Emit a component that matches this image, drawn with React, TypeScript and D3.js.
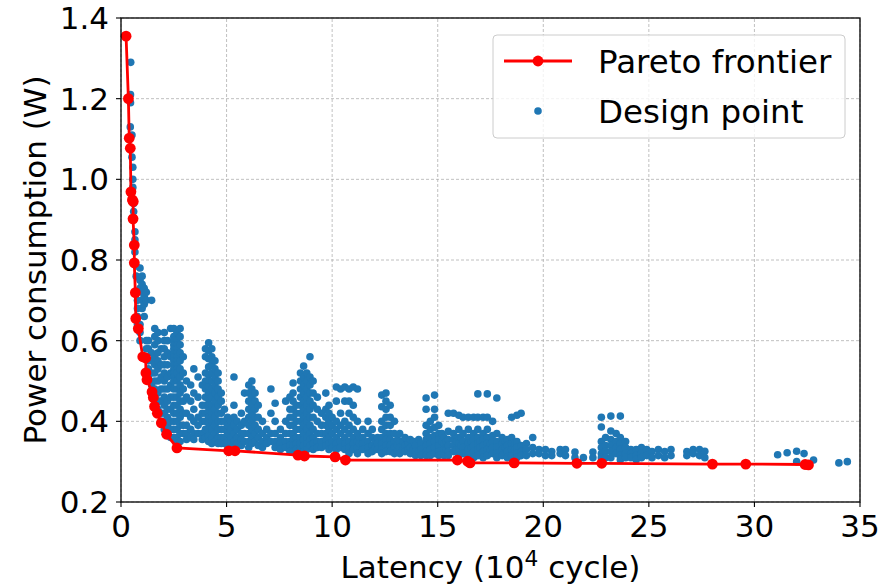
import React from 'react'
import * as d3 from 'd3'

// tick values
const xTicks = [0, 5, 10, 15, 20, 25, 30, 35]
const yTicks = [0.2, 0.4, 0.6, 0.8, 1.0, 1.2, 1.4]

// pareto frontier (latency in 10^4 cycles, power in W)
const paretoLatency = [
  0.24, 0.35, 0.39, 0.44, 0.47, 0.54, 0.58, 0.57, 0.63, 0.63, 0.68, 0.7, 0.82, 1.03, 1.17, 1.18, 1.23, 1.47,
  1.53, 1.59, 1.72, 1.91, 2.16, 2.65, 5.1, 5.4, 8.38, 8.69, 10.14, 10.63, 15.93, 16.41, 16.53, 18.62, 21.59,
  22.77, 28.01, 29.59, 32.4, 32.56,
]
const paretoPower = [
  1.355, 1.2, 1.102, 1.077, 0.969, 0.949, 0.945, 0.902, 0.837, 0.793, 0.719, 0.655, 0.63, 0.56, 0.557, 0.52,
  0.503, 0.473, 0.459, 0.437, 0.42, 0.396, 0.368, 0.334, 0.327, 0.327, 0.316, 0.314, 0.312, 0.304, 0.304, 0.301,
  0.297, 0.297, 0.296, 0.296, 0.294, 0.294, 0.293, 0.292,
]

// design points, grouped by latency column: [latency, powers[]]
const designColumns: [number, number[]][] = [
  [0.46, [1.29]],
  [0.45, [1.21, 1.19]],
  [0.44, [1.13]],
  [0.52, [1.11, 1.055]],
  [0.56, [1.03, 1.0, 0.98]],
  [0.6, [0.94, 0.92]],
  [0.66, [0.87, 0.85, 0.82]],
  [0.72, [0.785, 0.76]],
  [0.78, [0.7, 0.68, 0.66, 0.64]],
  [0.9, [0.78, 0.75, 0.73, 0.64, 0.62, 0.6]],
  [1.0, [0.76, 0.74, 0.72, 0.7, 0.68]],
  [1.1, [0.73, 0.71, 0.69, 0.66]],
  [1.2, [0.72, 0.7, 0.6, 0.58]],
  [1.3, [0.6, 0.58, 0.55, 0.53, 0.51]],
  [1.45, [0.7, 0.57, 0.55, 0.52, 0.49, 0.47]],
  [1.6, [0.63, 0.61, 0.59, 0.56, 0.54, 0.52, 0.5, 0.48, 0.46, 0.44]],
  [1.75, [0.62, 0.6, 0.57, 0.55, 0.53, 0.5, 0.47, 0.45, 0.43]],
  [1.9, [0.58, 0.54, 0.51, 0.48, 0.45, 0.42, 0.4]],
  [2.05, [0.62, 0.6, 0.58, 0.56, 0.54, 0.52, 0.5, 0.48, 0.46, 0.44, 0.42, 0.4, 0.38]],
  [2.2, [0.6, 0.57, 0.54, 0.51, 0.48, 0.45, 0.43, 0.41, 0.39, 0.37]],
  [2.35, [0.63, 0.56, 0.52, 0.49, 0.46, 0.43, 0.4, 0.38, 0.36]],
  [2.5, [0.63, 0.61, 0.6, 0.59, 0.58, 0.57, 0.56, 0.55, 0.54, 0.53, 0.52, 0.51, 0.5, 0.48, 0.46, 0.44, 0.42, 0.4, 0.38, 0.36]],
  [2.65, [0.62, 0.6, 0.59, 0.58, 0.57, 0.56, 0.55, 0.54, 0.53, 0.52, 0.5, 0.48, 0.46, 0.44, 0.42, 0.4, 0.38, 0.36, 0.35]],
  [2.8, [0.63, 0.61, 0.59, 0.57, 0.55, 0.53, 0.51, 0.49, 0.47, 0.45, 0.43, 0.41, 0.39, 0.37, 0.35]],
  [2.95, [0.56, 0.52, 0.48, 0.45, 0.42, 0.39, 0.37]],
  [3.1, [0.5, 0.46, 0.42, 0.39, 0.37, 0.355]],
  [3.3, [0.49, 0.45, 0.41, 0.38, 0.36]],
  [3.45, [0.53, 0.47, 0.43, 0.4, 0.37, 0.355]],
  [3.65, [0.51, 0.46, 0.41, 0.39, 0.37]],
  [3.85, [0.49, 0.44, 0.42, 0.4, 0.37, 0.355]],
  [4.0, [0.58, 0.56, 0.52, 0.5, 0.48, 0.46, 0.44, 0.42, 0.4, 0.38, 0.36]],
  [4.15, [0.595, 0.575, 0.555, 0.535, 0.515, 0.5, 0.485, 0.47, 0.455, 0.44, 0.425, 0.41, 0.395, 0.38, 0.365, 0.35]],
  [4.3, [0.58, 0.56, 0.54, 0.52, 0.5, 0.48, 0.46, 0.44, 0.42, 0.4, 0.38, 0.36, 0.345]],
  [4.45, [0.55, 0.53, 0.51, 0.49, 0.47, 0.45, 0.43, 0.41, 0.39, 0.37, 0.35]],
  [4.6, [0.52, 0.5, 0.48, 0.46, 0.44, 0.42, 0.4, 0.38, 0.36, 0.345]],
  [4.75, [0.47, 0.45, 0.42, 0.4, 0.38, 0.36, 0.345]],
  [4.9, [0.43, 0.4, 0.38, 0.36, 0.345]],
  [5.05, [0.41, 0.39, 0.37, 0.35, 0.34]],
  [5.2, [0.4, 0.38, 0.36, 0.345, 0.335]],
  [5.35, [0.51, 0.44, 0.41, 0.39, 0.37, 0.35, 0.335]],
  [5.5, [0.4, 0.38, 0.36, 0.345]],
  [5.7, [0.42, 0.39, 0.37, 0.355, 0.34]],
  [5.85, [0.47, 0.4, 0.37, 0.35]],
  [6.05, [0.49, 0.47, 0.45, 0.43, 0.41, 0.39, 0.37, 0.35, 0.335]],
  [6.2, [0.5, 0.48, 0.46, 0.44, 0.42, 0.4, 0.38, 0.36, 0.345]],
  [6.35, [0.47, 0.45, 0.43, 0.41, 0.39, 0.37, 0.35]],
  [6.5, [0.44, 0.41, 0.38, 0.36, 0.34]],
  [6.7, [0.4, 0.37, 0.35, 0.335]],
  [6.9, [0.38, 0.36, 0.345]],
  [7.1, [0.48, 0.42, 0.37, 0.35]],
  [7.3, [0.445, 0.4, 0.37, 0.35, 0.335]],
  [7.55, [0.38, 0.36, 0.345, 0.33]],
  [7.8, [0.45, 0.4, 0.37, 0.35, 0.335]],
  [8.0, [0.46, 0.43, 0.41, 0.39, 0.37, 0.35, 0.34, 0.325]],
  [8.15, [0.495, 0.47, 0.45, 0.43, 0.41, 0.39, 0.37, 0.355, 0.34, 0.325]],
  [8.3, [0.44, 0.42, 0.4, 0.38, 0.36, 0.345, 0.33]],
  [8.5, [0.52, 0.5, 0.48, 0.46, 0.44, 0.42, 0.4, 0.38, 0.36, 0.345, 0.33]],
  [8.65, [0.537, 0.51, 0.49, 0.47, 0.45, 0.43, 0.41, 0.39, 0.37, 0.355, 0.34, 0.325]],
  [8.8, [0.52, 0.5, 0.48, 0.46, 0.44, 0.42, 0.4, 0.38, 0.36, 0.345, 0.33]],
  [8.95, [0.56, 0.51, 0.49, 0.47, 0.45, 0.43, 0.41, 0.39, 0.37, 0.355, 0.34]],
  [9.1, [0.5, 0.47, 0.44, 0.41, 0.38, 0.36, 0.345, 0.33]],
  [9.3, [0.46, 0.43, 0.4, 0.37, 0.35, 0.335]],
  [9.5, [0.42, 0.39, 0.37, 0.35, 0.335]],
  [9.7, [0.47, 0.43, 0.41, 0.39, 0.37, 0.355, 0.34]],
  [9.85, [0.44, 0.42, 0.4, 0.38, 0.36, 0.345, 0.33]],
  [10.0, [0.41, 0.39, 0.37, 0.35, 0.335]],
  [10.2, [0.485, 0.45, 0.4, 0.38, 0.36, 0.345, 0.33]],
  [10.4, [0.48, 0.42, 0.39, 0.37, 0.35, 0.335]],
  [10.6, [0.485, 0.45, 0.4, 0.38, 0.36, 0.345, 0.33]],
  [10.8, [0.48, 0.45, 0.42, 0.39, 0.37, 0.35, 0.335, 0.32]],
  [11.0, [0.485, 0.44, 0.41, 0.38, 0.36, 0.345, 0.33]],
  [11.2, [0.48, 0.4, 0.37, 0.35, 0.335, 0.32]],
  [11.3, [0.36, 0.345]],
  [11.45, [0.38, 0.36, 0.345, 0.33]],
  [11.7, [0.4, 0.37, 0.35, 0.335, 0.32]],
  [11.9, [0.38, 0.36, 0.34, 0.325]],
  [12.05, [0.35, 0.335]],
  [12.15, [0.36, 0.345, 0.33]],
  [12.35, [0.465, 0.436, 0.4, 0.38, 0.36, 0.345, 0.33, 0.32]],
  [12.55, [0.47, 0.45, 0.43, 0.41, 0.39, 0.37, 0.355, 0.34, 0.325]],
  [12.75, [0.44, 0.41, 0.39, 0.37, 0.355, 0.34, 0.325]],
  [12.95, [0.4, 0.37, 0.35, 0.335, 0.32]],
  [13.1, [0.355, 0.34, 0.325]],
  [13.2, [0.37, 0.35, 0.335, 0.32]],
  [13.35, [0.35, 0.33]],
  [13.45, [0.36, 0.34, 0.325]],
  [13.6, [0.345, 0.33]],
  [13.7, [0.355, 0.335, 0.32]],
  [13.85, [0.35, 0.33]],
  [13.95, [0.34, 0.325, 0.315]],
  [14.1, [0.355, 0.325]],
  [14.2, [0.345, 0.33, 0.315]],
  [14.45, [0.458, 0.43, 0.39, 0.37, 0.355, 0.34, 0.325, 0.315]],
  [14.65, [0.4, 0.38, 0.36, 0.345, 0.33, 0.315]],
  [14.85, [0.465, 0.43, 0.41, 0.385, 0.365, 0.35, 0.335, 0.32]],
  [15.05, [0.39, 0.37, 0.355, 0.34, 0.325, 0.315]],
  [15.2, [0.37, 0.35]],
  [15.3, [0.36, 0.345, 0.33, 0.315]],
  [15.4, [0.35, 0.33]],
  [15.5, [0.42, 0.375, 0.355, 0.34, 0.325, 0.315]],
  [15.75, [0.42, 0.37, 0.355, 0.34, 0.325]],
  [15.9, [0.35, 0.33]],
  [16.0, [0.415, 0.38, 0.36, 0.345, 0.33, 0.315]],
  [16.1, [0.36, 0.34]],
  [16.2, [0.41, 0.37, 0.35, 0.335, 0.32]],
  [16.45, [0.41, 0.38, 0.36, 0.345, 0.33, 0.315]],
  [16.6, [0.35, 0.335]],
  [16.7, [0.41, 0.37, 0.355, 0.34, 0.325, 0.31]],
  [16.9, [0.468, 0.41, 0.38, 0.36, 0.345, 0.33, 0.315]],
  [17.0, [0.35, 0.335]],
  [17.15, [0.41, 0.37, 0.355, 0.34, 0.325, 0.31]],
  [17.35, [0.468, 0.41, 0.38, 0.36, 0.345, 0.33, 0.315]],
  [17.5, [0.345, 0.33]],
  [17.6, [0.4, 0.365, 0.35, 0.335, 0.32]],
  [17.8, [0.458, 0.37, 0.35, 0.335, 0.32, 0.31]],
  [18.05, [0.36, 0.345, 0.33, 0.315]],
  [18.2, [0.35, 0.335]],
  [18.3, [0.355, 0.34, 0.325, 0.31]],
  [18.5, [0.41, 0.36, 0.345, 0.33, 0.315]],
  [18.65, [0.345, 0.33]],
  [18.75, [0.415, 0.35, 0.335, 0.32, 0.31]],
  [18.95, [0.42, 0.34, 0.325, 0.315]],
  [19.2, [0.345, 0.33, 0.315]],
  [19.5, [0.36, 0.335, 0.32]],
  [19.8, [0.33, 0.32]],
  [20.1, [0.33, 0.315]],
  [20.4, [0.325, 0.315]],
  [20.8, [0.33, 0.32]],
  [21.05, [0.33, 0.315]],
  [21.5, [0.324, 0.31]],
  [21.9, [0.31]],
  [22.35, [0.324, 0.31]],
  [22.75, [0.41, 0.386, 0.35, 0.335, 0.32, 0.31]],
  [22.95, [0.36, 0.34, 0.325, 0.31]],
  [23.2, [0.413, 0.376, 0.355, 0.34, 0.325, 0.31]],
  [23.45, [0.37, 0.35, 0.335, 0.32]],
  [23.65, [0.413, 0.36, 0.345, 0.33, 0.315, 0.305]],
  [23.9, [0.35, 0.335, 0.32, 0.31]],
  [24.15, [0.33, 0.32, 0.31]],
  [24.4, [0.33, 0.315, 0.305]],
  [24.65, [0.335, 0.32, 0.31]],
  [24.9, [0.33, 0.315]],
  [25.15, [0.325, 0.31]],
  [25.45, [0.33, 0.315]],
  [25.75, [0.325, 0.31]],
  [26.05, [0.33, 0.315]],
  [26.8, [0.325, 0.315]],
  [27.1, [0.33, 0.32]],
  [27.4, [0.33, 0.315]],
  [27.65, [0.326, 0.31]],
  [31.1, [0.317]],
  [31.55, [0.322]],
  [32.0, [0.326, 0.3]],
  [32.35, [0.32]],
  [32.8, [0.304]],
  [34.0, [0.297]],
  [34.4, [0.3]],
]

const W = 884
const H = 587
const margin = { top: 18, right: 24, bottom: 85, left: 121 }
const font = 'DejaVu Sans, sans-serif'
const fs = 31
const legendFs = 32.5

const App = () => {
  const x = d3.scaleLinear().domain([0, 35]).range([margin.left, W - margin.right])
  const y = d3.scaleLinear().domain([0.2, 1.4]).range([H - margin.bottom, margin.top])

  const designPoints = designColumns.flatMap(([lat, ps]) => ps.map((p) => [lat, p]))
  const pareto = paretoLatency.map((l, i) => [l, paretoPower[i]] as [number, number])
  const line = d3
    .line<[number, number]>()
    .x((d) => x(d[0]))
    .y((d) => y(d[1]))

  const x0 = x(0)
  const x1 = x(35)
  const y0 = y(0.2)
  const y1 = y(1.4)

  return (
    <svg width={W} height={H} style={{ position: 'absolute', left: 0, top: 0, background: '#fff' }} fontFamily={font}>
      {/* grid */}
      <g stroke="#b0b0b0" strokeWidth={0.8} strokeDasharray="3,2">
        {xTicks.map((t) => (
          <line key={'gx' + t} x1={x(t)} x2={x(t)} y1={y0} y2={y1} />
        ))}
        {yTicks.map((t) => (
          <line key={'gy' + t} x1={x0} x2={x1} y1={y(t)} y2={y(t)} />
        ))}
      </g>

      {/* design points */}
      <g fill="#1f77b4">
        {designPoints.map((d, i) => (
          <circle key={i} cx={x(d[0])} cy={y(d[1])} r={3.8} />
        ))}
      </g>

      {/* pareto frontier */}
      <path d={line(pareto) || ''} fill="none" stroke="#ff0000" strokeWidth={2.8} />
      <g fill="#ff0000">
        {pareto.map((d, i) => (
          <circle key={i} cx={x(d[0])} cy={y(d[1])} r={5.4} />
        ))}
      </g>

      {/* spines */}
      <rect x={x0} y={y1} width={x1 - x0} height={y0 - y1} fill="none" stroke="#000" strokeWidth={1.3} />

      {/* x ticks */}
      {xTicks.map((t) => (
        <g key={'xt' + t}>
          <line x1={x(t)} x2={x(t)} y1={y0} y2={y0 + 5} stroke="#000" strokeWidth={1.1} />
          <text x={x(t)} y={y0 + 35} fontSize={fs} textAnchor="middle" fill="#000">
            {t}
          </text>
        </g>
      ))}

      {/* y ticks */}
      {yTicks.map((t) => (
        <g key={'yt' + t}>
          <line x1={x0 - 5} x2={x0} y1={y(t)} y2={y(t)} stroke="#000" strokeWidth={1.1} />
          <text x={x0 - 12} y={y(t)} dy="0.36em" fontSize={fs} textAnchor="end" fill="#000">
            {d3.format('.1f')(t)}
          </text>
        </g>
      ))}

      {/* axis labels */}
      <text x={(x0 + x1) / 2} y={H - 9} fontSize={fs} textAnchor="middle" fill="#000">
        Latency (10
        <tspan fontSize={fs * 0.7} dy={-12}>
          4
        </tspan>
        <tspan dy={12}> cycle)</tspan>
      </text>
      <text
        transform={`translate(46,${(y0 + y1) / 2}) rotate(-90)`}
        fontSize={fs}
        textAnchor="middle"
        fill="#000"
      >
        Power consumption (W)
      </text>

      {/* legend */}
      <g>
        <rect x={493} y={35} width={352} height={103} rx={4} fill="#fff" fillOpacity={0.8} stroke="#cccccc" strokeWidth={1} />
        <line x1={504} x2={572} y1={61} y2={61} stroke="#ff0000" strokeWidth={2.8} />
        <circle cx={538} cy={61} r={5.4} fill="#ff0000" />
        <text x={598} y={61} dy="0.36em" fontSize={legendFs} fill="#000">
          Pareto frontier
        </text>
        <circle cx={538} cy={111} r={3.8} fill="#1f77b4" />
        <text x={598} y={111} dy="0.36em" fontSize={legendFs} fill="#000">
          Design point
        </text>
      </g>
    </svg>
  )
}

export default App
